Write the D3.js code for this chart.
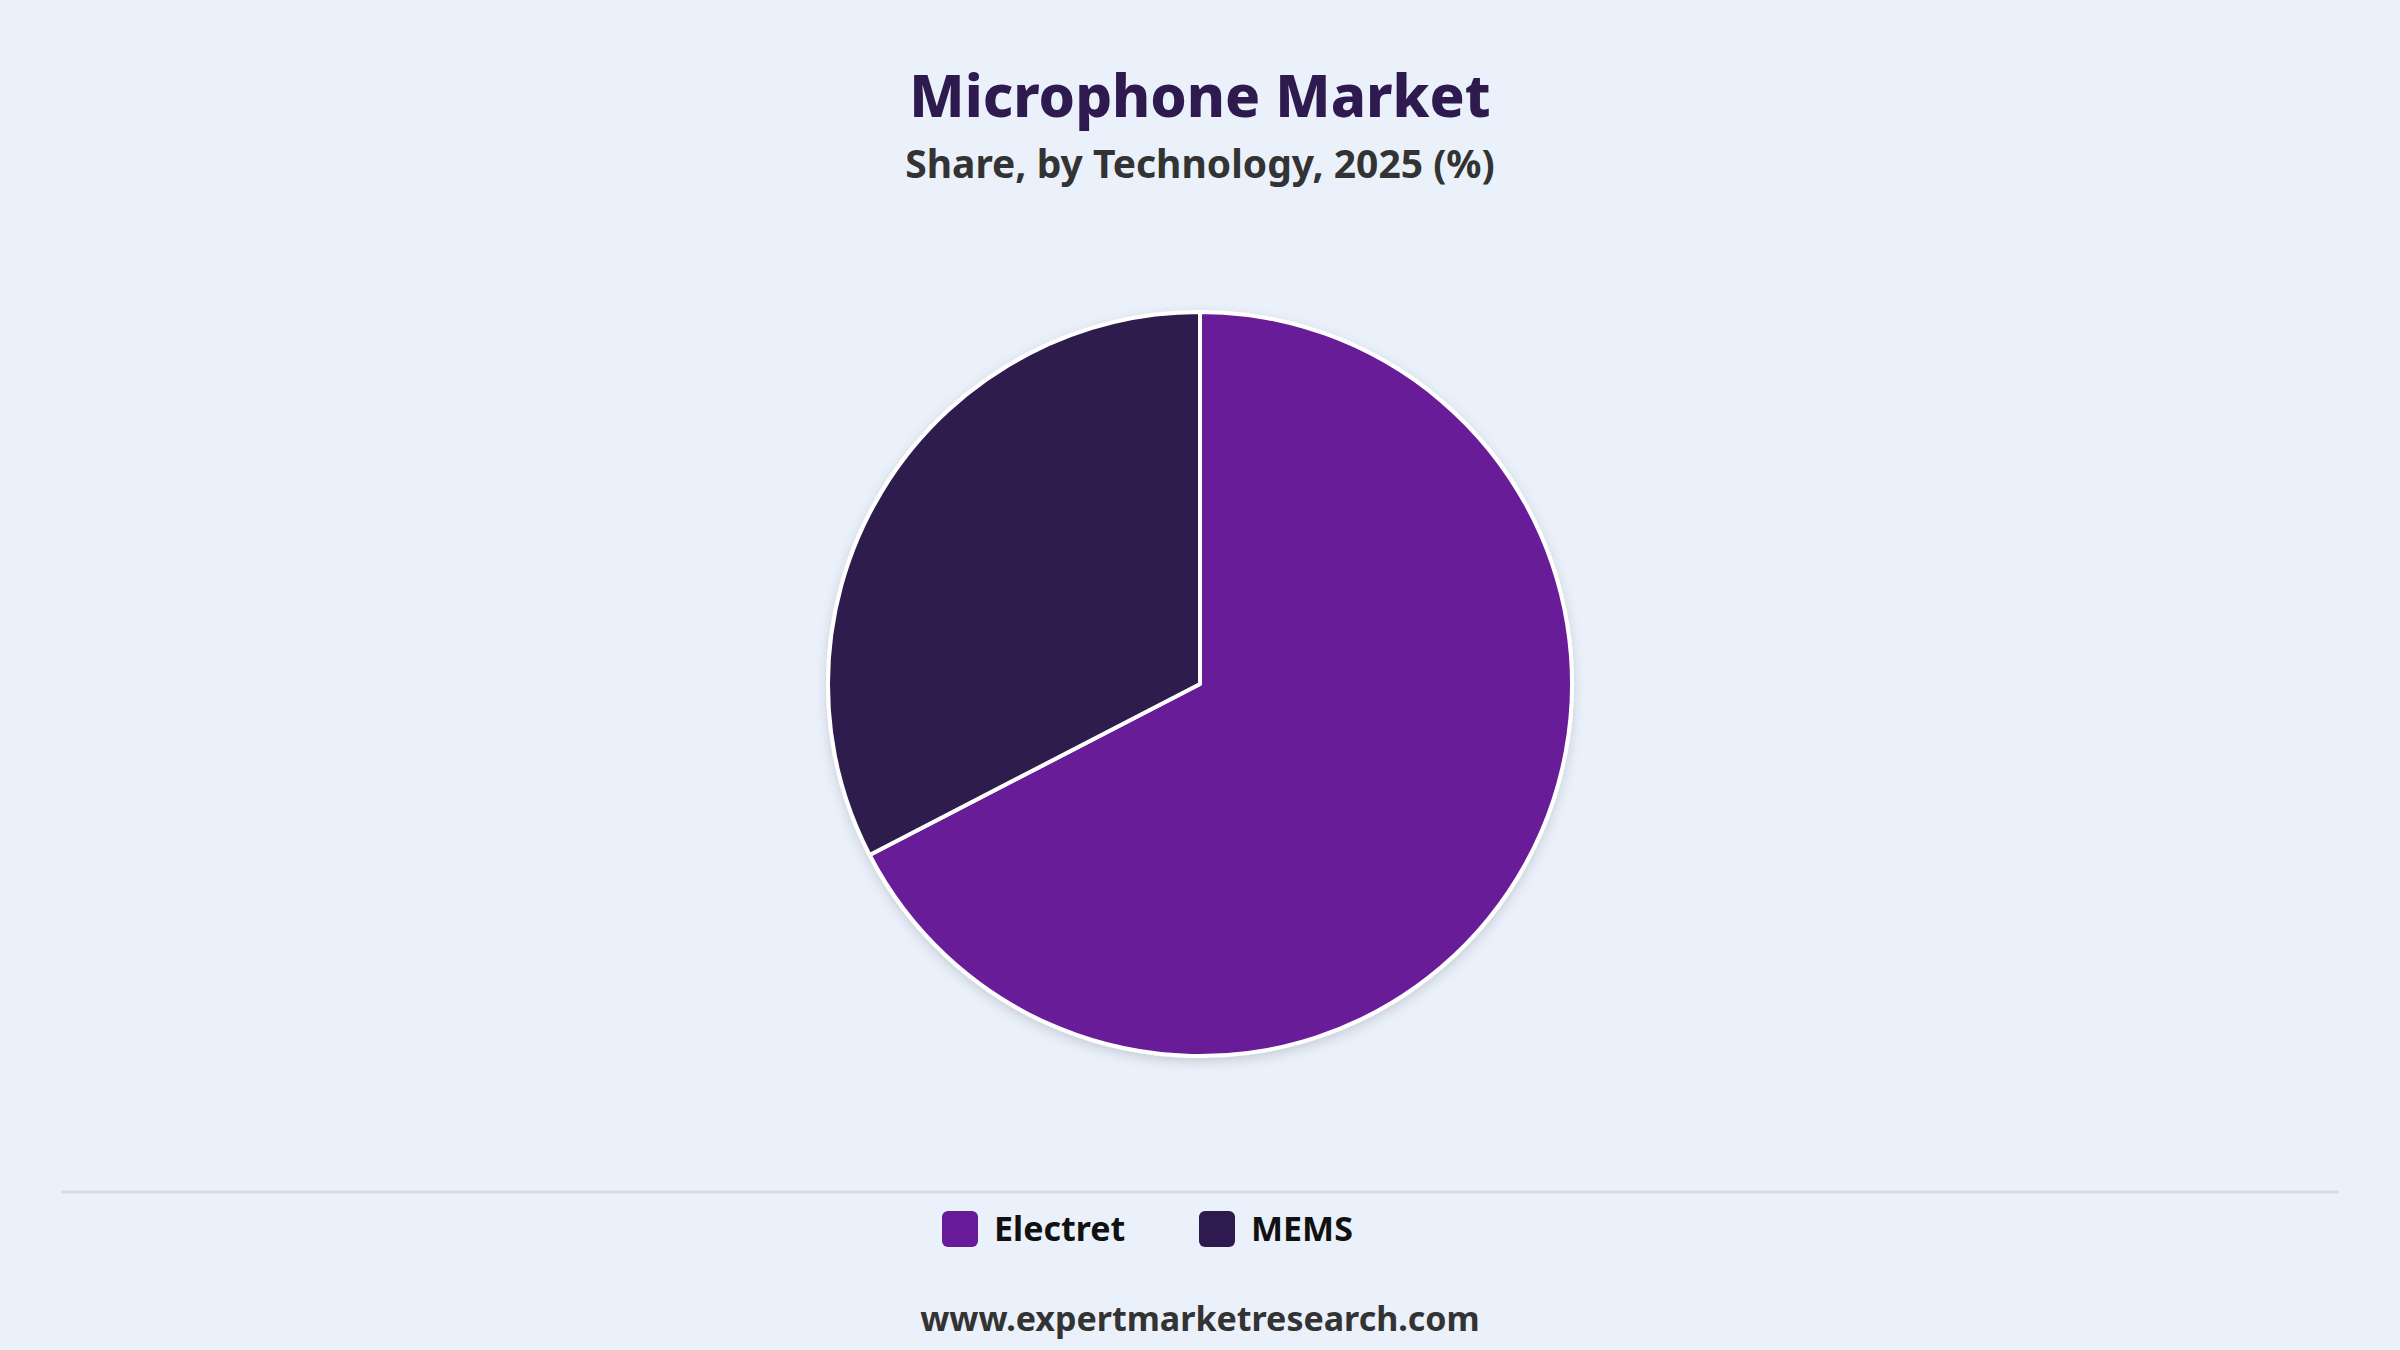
<!DOCTYPE html>
<html><head><meta charset="utf-8">
<script src="https://cdn.jsdelivr.net/npm/d3@7"></script>
<style>body{margin:0;background:#eaf1fb;}svg{display:block;}</style>
</head><body>
<script>
const categories = ["Electret", "MEMS"];
const shares = [67.4, 32.6];
const colors = ["#681b98", "#2e1a4e"];

const W = 2400, H = 1350;
const svg = d3.select("body").append("svg").attr("width", W).attr("height", H)
  .style("font-family", "'Noto Sans', 'Open Sans', sans-serif");
svg.append("rect").attr("width", W).attr("height", H).attr("fill", "#eaf1fb");

const defs = svg.append("defs");
const f = defs.append("filter").attr("id","sh").attr("x","-20%").attr("y","-20%").attr("width","140%").attr("height","140%");
f.append("feDropShadow").attr("dx",0).attr("dy",4).attr("stdDeviation",6).attr("flood-color","#000").attr("flood-opacity",0.15);

svg.append("text").attr("x", W/2).attr("y", 117).attr("text-anchor","middle")
  .attr("font-size", 58).attr("font-weight", 800).attr("fill", "#2e1a4e").text("Microphone Market");
svg.append("text").attr("x", W/2).attr("y", 178).attr("text-anchor","middle")
  .attr("font-size", 39).attr("font-weight", 700).attr("fill", "#333").text("Share, by Technology, 2025 (%)");

const cx = 1200, cy = 684, r = 372;
const pie = d3.pie().sort(null).value(d => d)(shares);
const arc = d3.arc().innerRadius(0).outerRadius(r);
const g = svg.append("g").attr("transform", `translate(${cx},${cy})`).attr("filter","url(#sh)");
g.selectAll("path").data(pie).join("path").attr("d", arc)
  .attr("fill", (d,i) => colors[i]).attr("stroke", "#fff").attr("stroke-width", 4).attr("stroke-linejoin","round");

svg.append("line").attr("x1", 61).attr("x2", 2339).attr("y1", 1192).attr("y2", 1192)
  .attr("stroke", "#d8dde4").attr("stroke-width", 3);

const legX = [942, 1199];
const lg = svg.selectAll("g.leg").data(categories).join("g").attr("class","leg")
  .attr("transform", (d,i) => `translate(${legX[i]},1211)`);
lg.append("rect").attr("width", 36).attr("height", 36).attr("rx", 6).attr("fill", (d,i) => colors[i]);
lg.append("text").attr("x", 52).attr("y", 30).attr("font-size", 34).attr("font-weight", 700)
  .attr("fill", "#111").text(d => d);

svg.append("text").attr("x", W/2).attr("y", 1331).attr("text-anchor","middle")
  .attr("font-size", 34).attr("font-weight", 700).attr("fill", "#333").text("www.expertmarketresearch.com");
</script>
</body></html>
